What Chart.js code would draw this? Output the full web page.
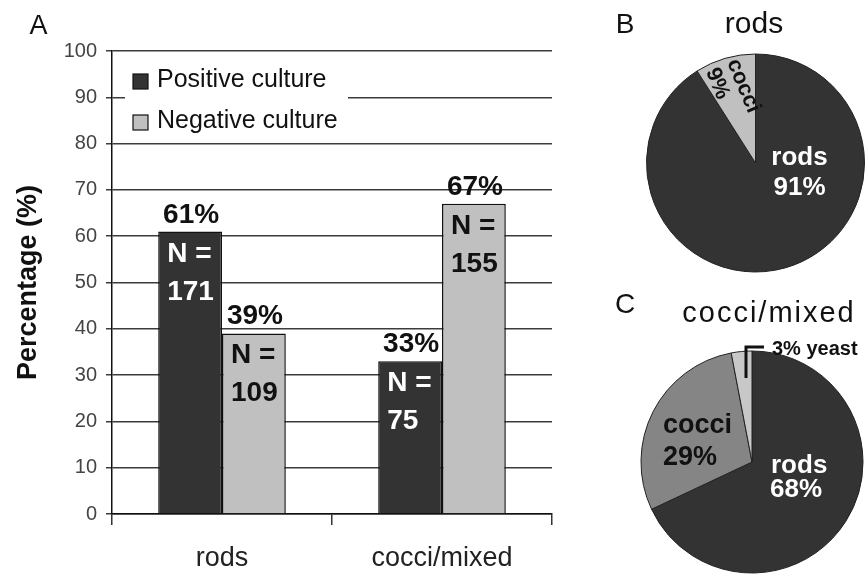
<!DOCTYPE html>
<html><head><meta charset="utf-8">
<script src="https://cdn.jsdelivr.net/npm/chart.js@4"></script>
<style>
html,body{margin:0;padding:0;background:#fff;}
#wrap{position:relative;width:865px;height:575px;overflow:hidden;background:#fff;}
canvas{position:absolute;}
</style></head><body>
<div id="wrap">
<canvas id="bar" width="580" height="575" style="left:0;top:0;width:580px;height:575px"></canvas>
<canvas id="pieB" width="285" height="285" style="left:580px;top:0;width:285px;height:285px"></canvas>
<canvas id="pieC" width="285" height="290" style="left:580px;top:285px;width:285px;height:290px"></canvas>
</div>
<script>
// ---- data ----
const categories = ['rods', 'cocci/mixed'];
const seriesNames = ['Positive culture', 'Negative culture'];
const positivePct = [61, 33];
const negativePct = [39, 67];
const positiveN = [171, 75];
const negativeN = [109, 155];
const yMin = 0, yMax = 100, yStep = 10;

const pieBTitle = 'rods';
const pieBLabels = ['rods', 'cocci'];
const pieBValues = [91, 9];

const pieCTitle = 'cocci/mixed';
const pieCLabels = ['rods', 'cocci', 'yeast'];
const pieCValues = [68, 29, 3];

// ---- style ----
const FONT = "'Liberation Sans', Arial, Helvetica, sans-serif";
Chart.defaults.font.family = FONT;
const DARK = '#333333', LIGHT = '#c0c0c0', MID = '#858585', PALE = '#c8c8c8', INK = '#111111';

// ---- bar chart plugins ----
const barLabels = {
  id: 'barLabels',
  afterDatasetsDraw(chart) {
    const ctx = chart.ctx;
    const nArr = [positiveN, negativeN];
    chart.data.datasets.forEach((ds, di) => {
      const meta = chart.getDatasetMeta(di);
      meta.data.forEach((bar, i) => {
        const left = bar.x - bar.width / 2;
        ctx.save();
        ctx.font = `bold 28px ${FONT}`;
        ctx.fillStyle = INK;
        ctx.textAlign = 'center';
        ctx.textBaseline = 'alphabetic';
        ctx.fillText(ds.data[i] + '%', bar.x + 1, bar.y - 9);
        ctx.fillStyle = di === 0 ? '#ffffff' : INK;
        ctx.textAlign = 'left';
        ctx.fillText('N =', left + 9, bar.y + 30);
        ctx.fillText(String(nArr[di][i]), left + 9, bar.y + 68);
        ctx.restore();
      });
    });
  }
};

const boxLegend = {
  id: 'boxLegend',
  beforeDatasetsDraw(chart) {
    const ctx = chart.ctx, a = chart.chartArea;
    ctx.save();
    ctx.fillStyle = '#ffffff';
    ctx.fillRect(a.left + 13, a.top + 6, 223, 84);
    chart.data.datasets.forEach((ds, di) => {
      const y = a.top + 23 + di * 41;
      ctx.fillStyle = ds.backgroundColor;
      ctx.fillRect(a.left + 21, y, 15, 15);
      ctx.strokeStyle = INK;
      ctx.lineWidth = 1.2;
      ctx.strokeRect(a.left + 21, y, 15, 15);
      ctx.fillStyle = INK;
      ctx.font = `25px ${FONT}`;
      ctx.textAlign = 'left';
      ctx.textBaseline = 'alphabetic';
      ctx.fillText(ds.label, a.left + 45, y + 13);
    });
    ctx.restore();
  },
  afterDraw(chart) {
    const ctx = chart.ctx;
    ctx.save();
    ctx.fillStyle = INK;
    ctx.font = `27px ${FONT}`;
    ctx.textAlign = 'center';
    ctx.textBaseline = 'alphabetic';
    ctx.fillText('A', 38.5, 34);
    ctx.restore();
  }
};

new Chart(document.getElementById('bar'), {
  type: 'bar',
  data: {
    labels: categories,
    datasets: [
      { label: seriesNames[0], data: positivePct, backgroundColor: DARK, borderColor: INK, borderWidth: 1.5,
        categoryPercentage: 0.58, barPercentage: 1 },
      { label: seriesNames[1], data: negativePct, backgroundColor: LIGHT, borderColor: INK, borderWidth: 1.5,
        categoryPercentage: 0.58, barPercentage: 1 }
    ]
  },
  options: {
    responsive: false,
    animation: false,
    events: [],
    layout: { padding: { left: 0, top: 51, right: 28, bottom: 0 } },
    plugins: { legend: { display: false }, tooltip: { enabled: false }, title: { display: false } },
    scales: {
      x: {
        offset: true,
        grid: { offset: true, drawOnChartArea: false, drawTicks: true, tickLength: 11, color: '#333', lineWidth: 1.5 },
        border: { color: INK, width: 1.5 },
        ticks: { font: { size: 27 }, color: '#222', padding: 17 },
        afterFit(s) { s.height = 61; }
      },
      y: {
        min: yMin, max: yMax,
        ticks: { stepSize: yStep, font: { size: 20 }, color: '#444', padding: 9 },
        grid: { color: '#3c3c3c', lineWidth: 1.5, tickLength: 6, drawTicks: true },
        border: { color: INK, width: 1.5 },
        title: { display: true, text: 'Percentage (%)', font: { size: 27, weight: 'bold' }, color: INK,
                 padding: { top: 12, bottom: 0 } },
        afterFit(s) { s.width = 112; }
      }
    }
  },
  plugins: [boxLegend, barLabels]
});

// ---- pies ----
const pieBText = {
  id: 'pieBText',
  afterDatasetsDraw(chart) {
    const ctx = chart.ctx;
    const arc = chart.getDatasetMeta(0).data[0];
    const cx = arc.x, cy = arc.y;
    ctx.save();
    ctx.fillStyle = INK;
    ctx.font = `28px ${FONT}`;
    ctx.textAlign = 'center';
    ctx.textBaseline = 'alphabetic';
    ctx.fillText('B', 45, 33);
    ctx.font = `30px ${FONT}`;
    ctx.fillText(pieBTitle, 174, 33);
    // rods label
    ctx.fillStyle = '#ffffff';
    ctx.font = `bold 26px ${FONT}`;
    ctx.fillText(pieBLabels[0], cx + 44, cy + 2);
    ctx.fillText(pieBValues[0] + '%', cx + 44, cy + 32);
    // cocci label (rotated)
    ctx.translate(cx - 23, cy - 103);
    ctx.rotate(67.4 * Math.PI / 180);
    ctx.fillStyle = INK;
    ctx.font = `bold 22px ${FONT}`;
    ctx.textAlign = 'left';
    ctx.textBaseline = 'middle';
    ctx.fillText(pieBLabels[1], 0, 0);
    ctx.fillText(pieBValues[1] + '%', 0, 23);
    ctx.restore();
  }
};

const pieCText = {
  id: 'pieCText',
  afterDatasetsDraw(chart) {
    const ctx = chart.ctx;
    const arc = chart.getDatasetMeta(0).data[0];
    const cx = arc.x, cy = arc.y;
    ctx.save();
    ctx.fillStyle = INK;
    ctx.font = `28px ${FONT}`;
    ctx.textAlign = 'center';
    ctx.textBaseline = 'alphabetic';
    ctx.fillText('C', 45, 28);
    ctx.font = `29px ${FONT}`;
    try { ctx.letterSpacing = '2px'; } catch (e) {}
    ctx.fillText(pieCTitle, 189, 37);
    try { ctx.letterSpacing = '0px'; } catch (e) {}
    ctx.textAlign = 'left';
    // rods
    ctx.fillStyle = '#ffffff';
    ctx.font = `bold 26px ${FONT}`;
    ctx.fillText(pieCLabels[0], cx + 19, cy + 11);
    ctx.fillText(pieCValues[0] + '%', cx + 18, cy + 35);
    // cocci
    ctx.fillStyle = INK;
    ctx.font = `bold 27px ${FONT}`;
    ctx.fillText(pieCLabels[1], cx - 89, cy - 29);
    ctx.fillText(pieCValues[1] + '%', cx - 89, cy + 3);
    // yeast with leader
    ctx.strokeStyle = INK;
    ctx.lineWidth = 3;
    ctx.beginPath();
    ctx.moveTo(cx - 6, cy - 84);
    ctx.lineTo(cx - 6, cy - 115);
    ctx.lineTo(cx + 12, cy - 115);
    ctx.stroke();
    ctx.font = `bold 20px ${FONT}`;
    ctx.textBaseline = 'middle';
    ctx.fillText(pieCValues[2] + '% ' + pieCLabels[2], cx + 20, cy - 113);
    ctx.restore();
  }
};

function makePie(id, labels, values, colors, padding, radius, plugin) {
  return new Chart(document.getElementById(id), {
    type: 'pie',
    data: { labels, datasets: [{ data: values, backgroundColor: colors, borderColor: '#222', borderWidth: 1, radius }] },
    options: {
      responsive: false, animation: false, events: [],
      layout: { padding },
      plugins: { legend: { display: false }, tooltip: { enabled: false }, title: { display: false } }
    },
    plugins: [plugin]
  });
}

makePie('pieB', pieBLabels, pieBValues, [DARK, LIGHT], { left: 66, right: 0, top: 53, bottom: 12 }, 109, pieBText);
makePie('pieC', pieCLabels, pieCValues, [DARK, MID, PALE], { left: 61, right: 2, top: 66, bottom: 2 }, 111, pieCText);
</script>
</body></html>
